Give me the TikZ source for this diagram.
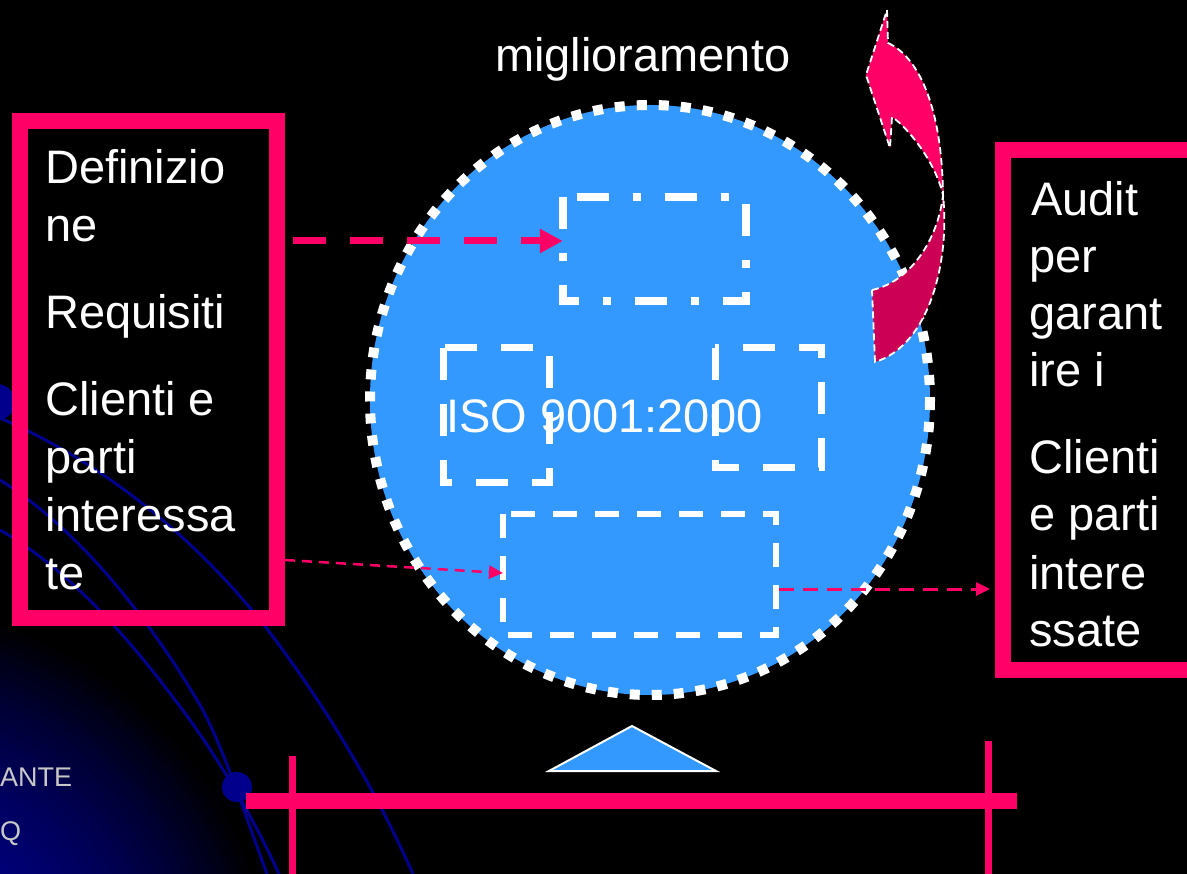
\documentclass[tikz,border=0pt]{standalone}
\usepackage{fontspec}
\setmainfont{Liberation Sans}
\usetikzlibrary{arrows.meta}
\definecolor{pinkred}{RGB}{255,0,102}
\definecolor{darkpink}{RGB}{204,0,85}
\definecolor{globeblue}{RGB}{51,153,255}
\definecolor{navyline}{RGB}{0,0,140}
\definecolor{greytext}{RGB}{200,200,200}
\tikzset{
  bigtext/.style={anchor=base west, inner sep=0pt, text=white, font=\fontsize{47}{56}\selectfont},
  smalltext/.style={anchor=base west, inner sep=0pt, text=greytext, font=\fontsize{27}{30}\selectfont},
  pinkframe/.style={draw=pinkred, line width=16pt},
  navycurve/.style={draw=navyline, line width=3pt},
  whitedash/.style={draw=white, line width=7pt, dash pattern=on 32pt off 24pt},
  thinarrow/.style={draw=pinkred, line width=2.5pt, dash pattern=on 10pt off 7pt, -{Triangle[length=14pt,width=13pt]}},
  ribbon/.style={draw=white, line width=1.8pt, dash pattern=on 7pt off 4pt},
}
\begin{document}
\begin{tikzpicture}[x=1pt,y=-1pt]
\useasboundingbox (0,0) rectangle (1187,874);
\clip (0,0) rectangle (1187,874);
\fill[black] (0,0) rectangle (1187,874);
% corner glow (concentric rings)
\foreach \k in {0,...,49} {
  \pgfmathsetmacro{\rr}{400-8*\k}
  \pgfmathtruncatemacro{\bb}{150*(1-(\rr/400)^2)}
  \definecolor{tmpglow}{RGB}{0,0,\bb}
  \fill[tmpglow] (-120,1000) circle (\rr);
}
% navy curves
\path[navycurve] (0,418) .. controls (120,470) and (220,560) .. (290,660) .. controls (340,730) and (380,800) .. (413,874);
\path[navycurve] (0,480) .. controls (80,530) and (150,620) .. (200,705) .. controls (220,740) and (240,800) .. (267,874);
\path[navycurve] (0,530) .. controls (70,570) and (130,640) .. (175,700) .. controls (210,745) and (250,810) .. (279,874);
\fill[navyline] (-3,402) circle (18);
\fill[navyline] (237,787) circle (15);
% grey text at the left edge
\node[smalltext] (ante) at (0,786) {ANTE};
\node[smalltext] (qtxt) at (0,840) {Q};
% frames
\path[pinkframe] (20,121) rectangle (277,618);
\path[pinkframe] (1003,150) rectangle (1215,670);
% bottom bar
\fill[pinkred] (246,793) rectangle (1017,809);
\fill[pinkred] (288.5,756) rectangle (295.5,874);
\fill[pinkred] (984.5,741) rectangle (991.5,874);
\path[fill=globeblue, draw=white, line width=2pt] (632,726) -- (716,771) -- (549,771) -- cycle;
% globe
\path[fill=globeblue, draw=white, line width=10pt, dash pattern=on 10pt off 12pt] (650,400) ellipse (280 and 295);
% texts
\node[bigtext] (miglio) at (495,72) {miglioramento};
\node[bigtext] (iso) at (446,433) {ISO 9001:2000};
% boxes inside globe
\path[draw=white, line width=8pt, dash pattern=on 32pt off 24pt on 8pt off 24pt] (563,197) rectangle (746,301);
\node[inner sep=0pt, minimum width=0pt] (boxA) at (563,241) {};
\path[whitedash] (443,348) rectangle (549,483);
\path[whitedash] (715,348) rectangle (821,468);
\path[draw=white, line width=6pt, dash pattern=on 24pt off 18pt] (503,514) rectangle (776,635);
\coordinate (boxBwest) at (503,573);
\coordinate (boxBeast) at (779,589);
% curved arrow
\path[fill=darkpink, ribbon]
  (872,290) .. controls (910,282) and (938,240) .. (943,195)
  .. controls (950,260) and (930,345) .. (875,362) -- cycle;
\path[fill=pinkred, ribbon]
  (887,10) -- (888,43) .. controls (915,55) and (942,100) .. (943,195)
  .. controls (935,160) and (905,125) .. (892,117) -- (890,148) -- (866,75) -- cycle;
% left texts
\node[bigtext] (l1) at (45,184) {Definizio};
\node[bigtext] (l2) at (45,242) {ne};
\node[bigtext] (l3) at (45,329) {Requisiti};
\node[bigtext] (l4) at (45,416) {Clienti e};
\node[bigtext] (l5) at (45,474) {parti};
\node[bigtext] (l6) at (45,532) {interessa};
\node[bigtext] (l7) at (45,589) {te};
% right texts
\node[bigtext] (r1) at (1031,216) {Audit};
\node[bigtext] (r2) at (1029,273) {per};
\node[bigtext] (r3) at (1029,330) {garant};
\node[bigtext] (r4) at (1029,387) {ire i};
\node[bigtext] (r5) at (1029,474) {Clienti};
\node[bigtext] (r6) at (1029,531) {e parti};
\node[bigtext] (r7) at (1029,589) {intere};
\node[bigtext] (r8) at (1029,646) {ssate};
% arrows
\coordinate (leftA) at (293,241);
\coordinate (leftB) at (285,560);
\coordinate (rightT) at (990,589);
\draw[draw=pinkred, line width=7pt, dash pattern=on 33pt off 24pt, -{Triangle[length=23pt,width=23pt]}] (leftA) -- (boxA.west);
\draw[thinarrow] (leftB) -- (boxBwest);
\draw[draw=pinkred, line width=3pt, dash pattern=on 15pt off 9pt, -{Triangle[length=14pt,width=13pt]}] (boxBeast) -- (rightT);
\end{tikzpicture}
\end{document}
